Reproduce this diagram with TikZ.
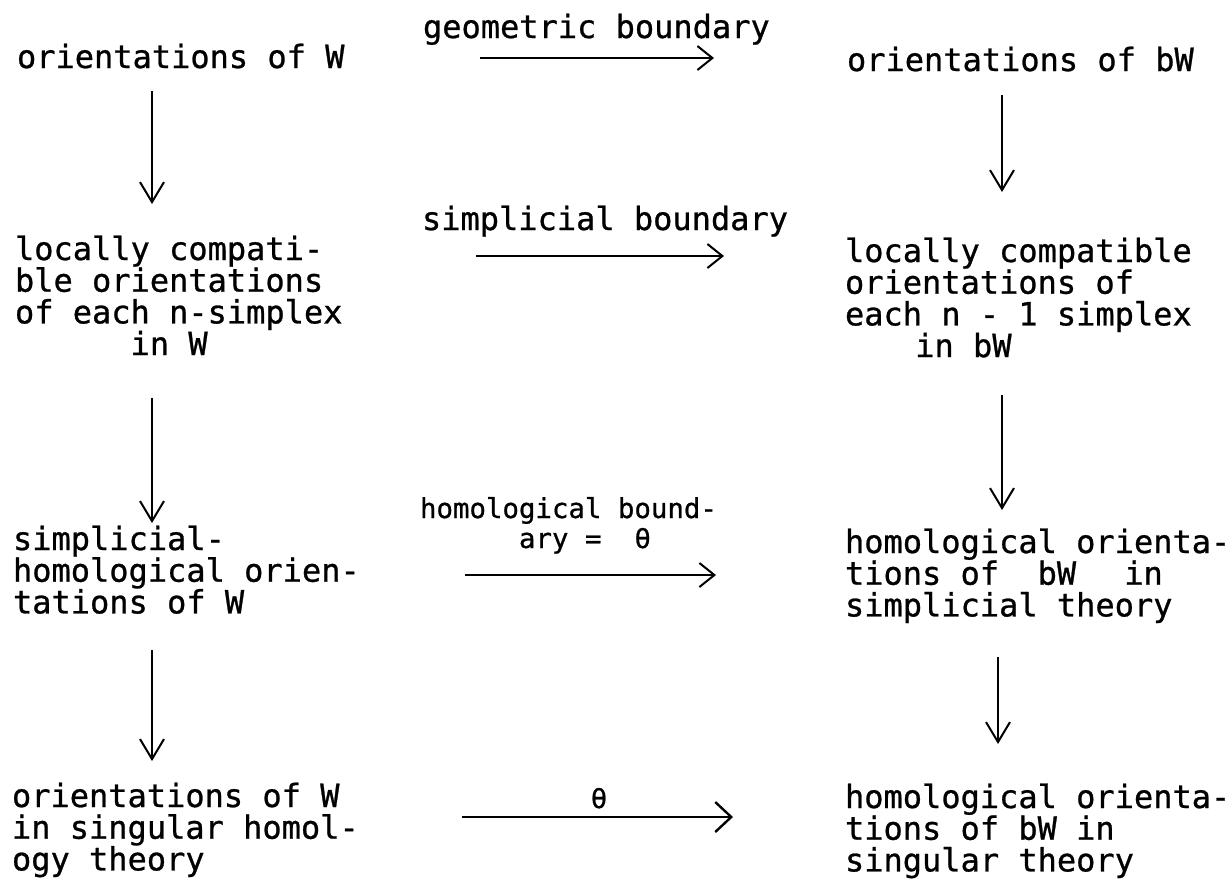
\documentclass[tikz,border=0pt]{standalone}
\usepackage{fontspec}
\newfontfamily\tw[FakeBold=0.8]{DejaVu Sans Mono}
\usetikzlibrary{arrows.meta}
\newcommand{\tl}[1]{\vtop{\baselineskip=15.85pt\lineskiplimit=-\maxdimen\lineskip=0pt #1}}
\newcommand{\tlsmall}[1]{\vtop{\baselineskip=15pt\lineskiplimit=-\maxdimen\lineskip=0pt #1}}
\begin{document}
\begin{tikzpicture}[x=0.5pt,y=-0.5pt,
  txt/.style={anchor=base west,inner sep=0pt,outer sep=0pt,font=\tw\fontsize{16pt}{15.85pt}\selectfont,text=black},
  stxt/.style={txt,font=\tw\fontsize{13.7pt}{15pt}\selectfont},
  varr/.style={line width=1pt,-{Straight Barb[length=10pt,width=12pt,line width=1pt]}},
  harr/.style={line width=1pt,-{Straight Barb[length=7.5pt,width=12pt,line width=1pt]}}]
\useasboundingbox (0,0) rectangle (1230,879);
% left column
\node[txt] (L1) at (17,68) {orientations of W};
\node[txt] (L2) at (15,260) {\tl{\hbox{locally compati-}\hbox{ble orientations}\hbox{of each n-simplex}\hbox{\hspace*{0pt}~~~~~~in W}}};
\node[txt] (L3) at (13,550) {\tl{\hbox{simplicial-}\hbox{homological orien-}\hbox{tations of W}}};
\node[txt] (L4) at (12,807) {\tl{\hbox{orientations of W}\hbox{in singular homol-}\hbox{ogy theory}}};
% right column
\node[txt] (R1) at (847,71) {orientations of bW};
\node[txt] (R2) at (845,262) {\tl{\hbox{locally compatible}\hbox{orientations of}\hbox{each n - 1 simplex}\hbox{\hspace*{0pt}~~~\hspace*{0.39em}in bW}}};
\node[txt] (R3) at (845,553) {\tl{\hbox{homological orienta-}\hbox{tions of~~bW~~\hspace*{0.3em}in}\hbox{simplicial theory}}};
\node[txt] (R4) at (845,808) {\tl{\hbox{homological orienta-}\hbox{tions of bW in}\hbox{singular theory}}};
% middle labels
\node[txt] (G1) at (423,38) {geometric boundary};
\node[txt] (G2) at (422,230) {simplicial boundary};
\node[stxt] (G3) at (420,518) {\tlsmall{\hbox{homological bound-}\hbox{\hspace*{0pt}~~~~~~ary~=~~θ}}};
\node[stxt,anchor=base] (G4) at (599,808) {θ};
% vertical arrow ends
\coordinate (a1s) at (152,91);  \coordinate (a1e) at (152,204);
\coordinate (a2s) at (152,398); \coordinate (a2e) at (152,523);
\coordinate (a3s) at (152,650); \coordinate (a3e) at (152,761);
\coordinate (b1s) at (1002,95);  \coordinate (b1e) at (1002,192);
\coordinate (b2s) at (1002,395); \coordinate (b2e) at (1002,510);
\coordinate (b3s) at (998,657);  \coordinate (b3e) at (998,744);
\draw[varr] (a1s) -- (a1e);
\draw[varr] (a2s) -- (a2e);
\draw[varr] (a3s) -- (a3e);
\draw[varr] (b1s) -- (b1e);
\draw[varr] (b2s) -- (b2e);
\draw[varr] (b3s) -- (b3e);
% horizontal arrow ends
\coordinate (h1s) at (480,58);  \coordinate (h1e) at (714,58);
\coordinate (h2s) at (476,256); \coordinate (h2e) at (724,256);
\coordinate (h3s) at (465,575); \coordinate (h3e) at (716,575);
\coordinate (h4s) at (462,817); \coordinate (h4e) at (733,817);
\draw[harr] (h1s) -- (h1e);
\draw[harr] (h2s) -- (h2e);
\draw[harr] (h3s) -- (h3e);
\draw[line width=1pt,-{Straight Barb[length=8pt,width=15pt,line width=1.2pt]}] (h4s) -- (h4e);
\end{tikzpicture}
\end{document}
